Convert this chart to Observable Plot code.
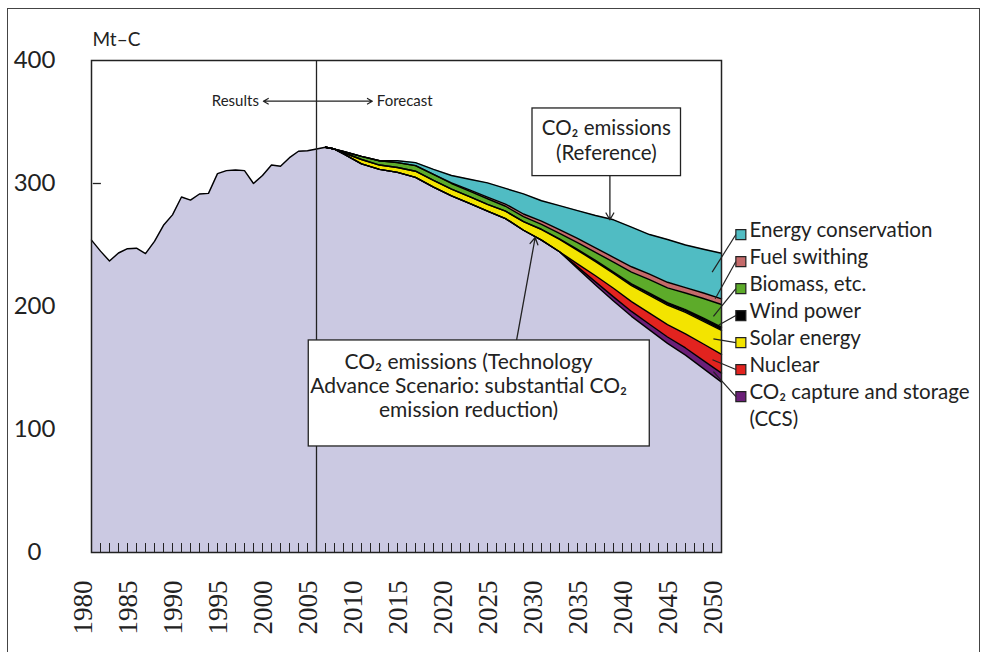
<!DOCTYPE html>
<html><head><meta charset="utf-8">
<script src="https://cdn.jsdelivr.net/npm/d3@7"></script>
<script src="https://cdn.jsdelivr.net/npm/@observablehq/plot@0.6"></script>
<style>
body{margin:0;background:#fff;}
#wrap{position:relative;width:987px;height:652px;overflow:hidden;background:#fff;}
#border{position:absolute;left:7px;top:8px;width:973px;height:720px;border:1.3px solid #444;box-sizing:border-box;}
#wrap svg{position:absolute;left:0;top:0;}
</style></head><body><div id="wrap"><div id="border"></div></div>
<script>
// ---- Data (Mt-C) ----
const histYears = d3.range(1980, 2006);
const histEmissions = [254, 245, 237, 243.5, 247, 247.4, 243, 253, 266, 274.5, 289, 286.5, 291.5, 292, 308, 310.5, 311, 310.5, 300, 306.5, 315, 314, 321, 326.2, 326.6, 328];

const forecastYears = [2006, 2007, 2008, 2010, 2012, 2014, 2016, 2018, 2020, 2022, 2024, 2026, 2028, 2030, 2032, 2034, 2036, 2038, 2040, 2042, 2044, 2046, 2048, 2050];
const tasEmissions   = [329.5, 328, 324, 316, 311.5, 309, 305, 297, 290, 283.8, 277.6, 271.5, 262, 254, 244.5, 231, 217.5, 204.5, 192, 181, 170, 160.5, 149.5, 138.5];
const ccs            = [0, 0, 0, 0, 0, 0, 0, 0, 0, 0, 0, 0, 0, 0, 0, 1.2, 2.5, 3.3, 4, 4.6, 5.2, 5.8, 6.5, 7.3];
const nuclear        = [0, 0, 0, 0, 0, 0, 0, 0, 0, 0, 0, 0, 0, 0, 0, 2.5, 5, 7, 8, 9, 10, 11.5, 13.5, 15.2];
const solar          = [0, 0, 1, 3.5, 3.5, 4, 5, 5.5, 5.5, 5.5, 5.5, 6, 7, 8.5, 10, 11, 11.5, 12, 13, 14.5, 16, 17.5, 18.5, 19.5];
const wind           = [0, 0, 0, 0, 0, 0, 0, 0, 0, 0, 0, 0, 0, 0.3, 0.5, 0.7, 1, 1.2, 1.5, 1.7, 2, 2.2, 2.5, 2.7];
const biomass        = [0, 0, 1, 2.5, 3.5, 4, 4.5, 5, 4.5, 4.5, 4.5, 4, 4, 4, 4.5, 5.5, 6.5, 8, 9.5, 11, 12, 13.5, 16, 18.4];
const fuelSwitching  = [0, 0, 0, 0, 0, 0, 0, 0, 0.5, 1, 1.3, 1.8, 2.2, 2.6, 3, 3.4, 3.7, 4, 4.3, 4.5, 4.5, 4.3, 4.5, 4.6];
const conservation   = [0, 0, 0, 0, 0, 1.5, 2.5, 4, 6, 8.7, 11.6, 12.7, 16.3, 16.6, 19.5, 22.7, 26.3, 30.5, 32.2, 32.2, 34.8, 34.7, 35.5, 37.1];

const seriesOrder  = ["Emissions", "CCS", "Nuclear", "Solar energy", "Wind power", "Biomass, etc.", "Fuel swithing", "Energy conservation"];
const seriesColors = ["#cbc9e2", "#6b1f78", "#e2231f", "#f3e400", "#000000", "#5dab2a", "#c46a6a", "#50bcc3"];

const yTicks = [0, 100, 200, 300, 400];
const xLabels = d3.range(1980, 2051, 5);

const legendLabels = ["Energy conservation", "Fuel swithing", "Biomass, etc.", "Wind power", "Solar energy", "Nuclear", "CO\u2082 capture and storage\n(CCS)"];
const legendSeries = ["Energy conservation", "Fuel swithing", "Biomass, etc.", "Wind power", "Solar energy", "Nuclear", "CCS"];
// leader-line targets inside the chart (year, Mt-C)
const leaderYears  = [2048.96, 2049.3, 2049.1, 2049.7, 2049.1, 2049.0, 2049.1];
const leaderValues = [227.9, 206.3, 191.9, 185, 173.7, 156.7, 147];

// ---- build long table ----
const rows = [];
histYears.forEach((yr, i) => rows.push({year: yr, series: "Emissions", value: histEmissions[i]}));
const wedges = {"CCS": ccs, "Nuclear": nuclear, "Solar energy": solar, "Wind power": wind, "Biomass, etc.": biomass, "Fuel swithing": fuelSwitching, "Energy conservation": conservation};
forecastYears.forEach((yr, i) => {
  rows.push({year: yr, series: "Emissions", value: tasEmissions[i]});
  for (const [k, arr] of Object.entries(wedges)) rows.push({year: yr, series: k, value: arr[i]});
});

// boundary lines (cumulative tops of each layer)
const boundaries = [];
histYears.forEach((yr, i) => boundaries.push({year: yr, series: "Emissions", top: histEmissions[i]}));
forecastYears.forEach((yr, i) => {
  let acc = tasEmissions[i];
  boundaries.push({year: yr, series: "Emissions", top: acc});
  for (const s of seriesOrder.slice(1)) { acc += wedges[s][i]; boundaries.push({year: yr, series: s, top: acc}); }
});

const legend = legendLabels.map((label, i) => ({
  label, series: legendSeries[i],
  sw: 258.5 - 21.95 * i,
  ty: 272.3 - 21.95 * i,
  tx: leaderYears[i], tv: leaderValues[i]
}));

const font = "Lato, 'Open Sans', sans-serif";
const ink = "#222";

const plot = Plot.plot({
  width: 987, height: 652,
  marginLeft: 91, marginRight: 266, marginTop: 60, marginBottom: 100,
  x: {domain: [1980, 2050], axis: null},
  y: {domain: [0, 400], axis: null},
  color: {domain: seriesOrder, range: seriesColors},
  style: {background: "transparent", overflow: "visible", fontFamily: font},
  marks: [
    Plot.ruleY(yTicks.filter(v => v > 0 && v < 400), {x1: 1980.2, x2: 1981.1, stroke: ink, strokeWidth: 1.3}),
    Plot.areaY(rows, {x: "year", y: "value", z: "series", fill: "series", order: seriesOrder}),
    Plot.line(boundaries, {x: "year", y: "top", z: "series", stroke: "#000", strokeWidth: 1.4, strokeLinejoin: "round"}),
    Plot.ruleX(d3.range(1981, 2050), {y1: 0, y2: 7.3, stroke: ink, strokeWidth: 1}),
    Plot.ruleX([2005], {stroke: ink, strokeWidth: 1.3}),
    Plot.frame({stroke: ink, strokeWidth: 1.5}),
    // y tick labels
    Plot.text(yTicks, {y: d => d, text: d => `${d}`, frameAnchor: "left", dx: -57, textAnchor: "middle", fontSize: 24, fill: ink}),
    // x tick labels
    Plot.text(xLabels, {x: d => d, text: d => `${d}`, frameAnchor: "bottom", dy: 28, rotate: -90, textAnchor: "end", fontSize: 27, fontFamily: "'Liberation Serif', 'Times New Roman', serif", fill: ink}),
    // unit
    Plot.text(["Mt\u2013C"], {frameAnchor: "top-left", dx: 1, dy: -28, textAnchor: "start", fontSize: 19, fill: ink}),
    // Results / Forecast
    Plot.arrow([1999.1, 2011.2], {x1: 2005, x2: d => d, y1: 366.9, y2: 366.9, headLength: 7, strokeWidth: 1.2, stroke: ink}),
    Plot.text(["Results"], {x: 1998.6, y: 366.9, textAnchor: "end", fontSize: 15, fill: ink}),
    Plot.text(["Forecast"], {x: 2011.7, y: 366.9, textAnchor: "start", fontSize: 15, fill: ink}),
    // Reference callout
    Plot.arrow([0], {x1: 2037.6, x2: 2037.6, y1: 306, y2: 270.5, headLength: 9, strokeWidth: 1.3, stroke: ink}),
    Plot.rect([0], {x1: 2029, x2: 2045.5, y1: 306, y2: 361, fill: "white", stroke: ink, strokeWidth: 1.3}),
    Plot.text(["CO\u2082 emissions\n(Reference)"], {x: 2037.2, y: 335.4, fontSize: 20.5, lineHeight: 1.22, fill: ink}),
    // TAS callout
    Plot.arrow([0], {x1: 2027.2, y1: 171.5, x2: 2029.3, y2: 256.1, headLength: 9, strokeWidth: 1.3, stroke: ink}),
    Plot.rect([0], {x1: 2004.14, x2: 2042.03, y1: 86.2, y2: 172.4, fill: "white", stroke: ink, strokeWidth: 1.3}),
    Plot.text(["CO\u2082 emissions (Technology\nAdvance Scenario: substantial CO\u2082\nemission reduction)"], {x: 2021.9, y: 135.8, fontSize: 21, lineHeight: 1.13, fill: ink}),
    // legend
    Plot.link(legend, {x1: 2051.6, y1: "sw", x2: "tx", y2: "tv", stroke: ink, strokeWidth: 1.2}),
    Plot.dot(legend, {x: 2052.15, y: "sw", symbol: "square", r: 5.64, fill: "series", stroke: ink, strokeWidth: 1.2}),
    Plot.text(legend, {x: 2053.1, y: "ty", text: "label", textAnchor: "start", lineAnchor: "top", fontSize: 20.5, lineHeight: 1.32, fill: ink})
  ]
});
document.getElementById("wrap").appendChild(plot);
</script></body></html>
